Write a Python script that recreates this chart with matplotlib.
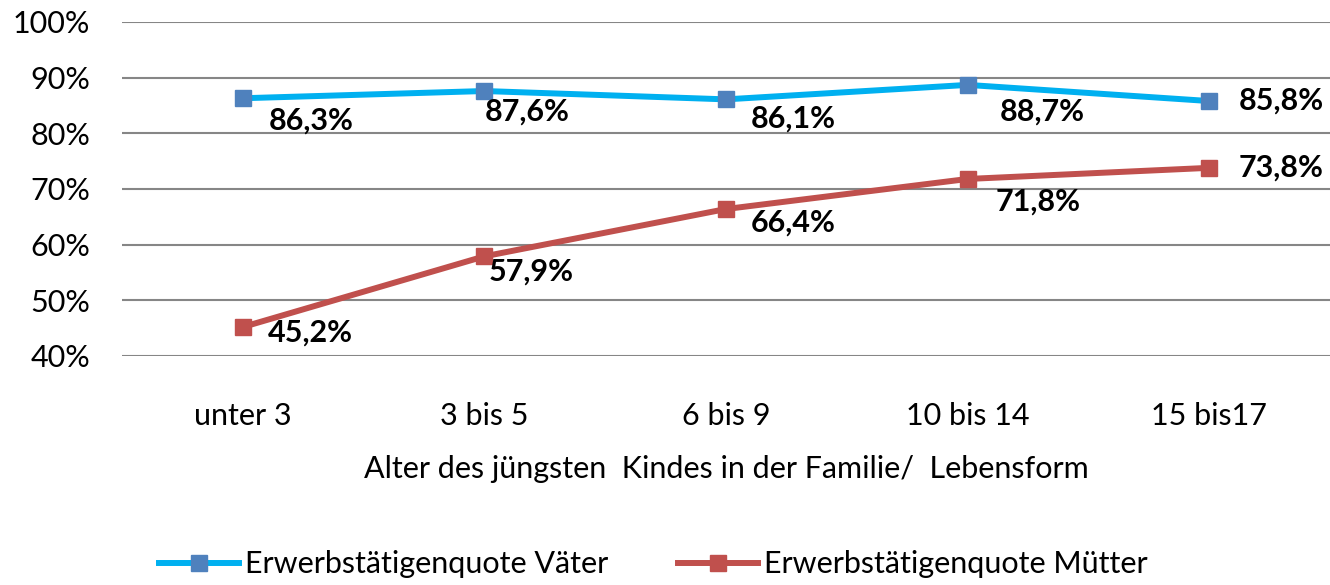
import matplotlib.pyplot as plt
from matplotlib.ticker import FuncFormatter

categories = ['unter 3', '3 bis 5', '6 bis 9', '10 bis 14', '15 bis17']
vaeter = [86.3, 87.6, 86.1, 88.7, 85.8]
muetter = [45.2, 57.9, 66.4, 71.8, 73.8]
y_ticks = [40, 50, 60, 70, 80, 90, 100]

# Versatz der Datenbeschriftungen (Punkte), nur Layout
off_v = [(19, -16), (0, -15), (18, -14), (23, -19), (21, 0)]
off_m = [(18, -4), (3, -11), (18, -10), (20, -16), (21, 0)]

plt.rcParams['font.family'] = ['Lato', 'DejaVu Sans']

fig = plt.figure(figsize=(13.3, 5.85), dpi=100)
ax = fig.add_axes([0.0917, 0.3915, 0.9083, 0.5709])

x = range(len(categories))
ax.plot(x, vaeter, color='#00B0F0', lw=4.3, marker='s', ms=11,
        mfc='#4F81BD', mec='#4F81BD', label='Erwerbstätigenquote Väter', zorder=3)
ax.plot(x, muetter, color='#C0504D', lw=4.3, marker='s', ms=11,
        mfc='#C0504D', mec='#C0504D', label='Erwerbstätigenquote Mütter', zorder=3)

for xi, v, off in zip(x, vaeter, off_v):
    ax.annotate(f'{v:.1f}%'.replace('.', ','), (xi, v), xytext=off,
                textcoords='offset points', ha='left', va='center',
                fontsize=22, fontweight='bold')
for xi, v, off in zip(x, muetter, off_m):
    ax.annotate(f'{v:.1f}%'.replace('.', ','), (xi, v), xytext=off,
                textcoords='offset points', ha='left', va='center',
                fontsize=22, fontweight='bold')

ax.set_xlim(-0.5, len(categories) - 0.5)
ax.set_ylim(40, 100)
ax.set_yticks(y_ticks)
ax.yaxis.set_major_formatter(FuncFormatter(lambda v, p: f'{v:.0f}%'))
ax.set_xticks(list(x))
ax.set_xticklabels(categories)
ax.tick_params(axis='both', length=0, labelsize=22)
ax.tick_params(axis='y', pad=23)
ax.tick_params(axis='x', pad=33)
ax.grid(axis='y', color='#868686', lw=1.5)
ax.set_axisbelow(True)
for s in ax.spines.values():
    s.set_visible(False)

ax.set_xlabel('Alter des jüngsten  Kindes in der Familie/  Lebensform', fontsize=22, labelpad=18)

ax.legend(loc='upper center', bbox_to_anchor=(0.44, -0.5), ncol=2, frameon=False,
          fontsize=22, handlelength=2.6, handletextpad=0.2, columnspacing=2.3)

fig.savefig('out.png', dpi=100)
